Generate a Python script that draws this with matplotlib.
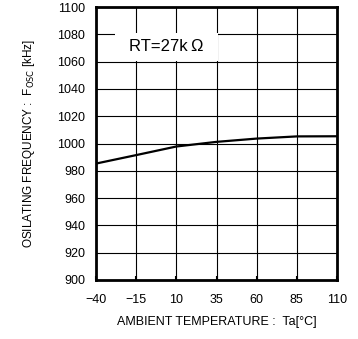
import matplotlib
matplotlib.use("Agg")
import matplotlib.pyplot as plt
from matplotlib.patches import Rectangle

# curve
temp = [-40, -15, 10, 35, 60, 85, 110]
fosc = [985.3, 991.5, 997.8, 1001.2, 1003.6, 1005.2, 1005.3]

xticks = [-40, -15, 10, 35, 60, 85, 110]
yticks = list(range(900, 1101, 20))

plt.rcParams['font.family'] = ['Liberation Sans', 'DejaVu Sans']

fig = plt.figure(figsize=(3.58, 3.39), dpi=100)
ax = fig.add_axes([96 / 358, 1 - 280 / 339, 241 / 358, 273 / 339])

ax.plot(temp, fosc, color='black', lw=1.6, zorder=3)

ax.set_xlim(-40, 110)
ax.set_ylim(900, 1100)
ax.set_xticks(xticks)
ax.set_yticks(yticks)
ax.set_xticklabels([str(t).replace('-', '\u2212') for t in xticks], fontsize=9)
ax.set_yticklabels([str(t) for t in yticks], fontsize=9)
ax.grid(True, color='black', lw=0.8)
ax.tick_params(axis='x', direction='in', length=3, width=1.5, pad=10)
ax.tick_params(axis='y', direction='in', length=0, pad=8)
for s in ax.spines.values():
    s.set_linewidth(2)

# white label box hiding the grid
ax.add_patch(Rectangle((-28.2, 1060.4), 64.1, 20.6, facecolor='white',
                       edgecolor='none', zorder=2.5))
ax.text(3.8, 1071, 'RT=27k\u2009\u03a9', fontsize=12, va='center', ha='center', zorder=4)

ax.set_xlabel('AMBIENT TEMPERATURE :  Ta[\u00b0C]', fontsize=9, labelpad=7)
ax.set_ylabel(r'OSILATING FREQUENCY :  F$_{\mathrm{OSC}}$ [kHz]', fontsize=8.5, labelpad=14)

fig.savefig('out.png', dpi=100)
